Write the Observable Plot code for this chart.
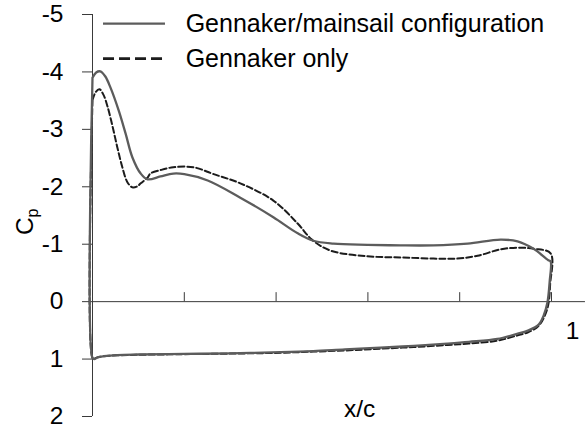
<!DOCTYPE html>
<html>
<head>
<meta charset="utf-8">
<script src="https://cdn.jsdelivr.net/npm/d3@7"></script>
<script src="https://cdn.jsdelivr.net/npm/@observablehq/plot@0.6"></script>
<style>
  html, body { margin: 0; padding: 0; background: #fff; }
  #chart { width: 587px; height: 430px; }
</style>
</head>
<body>
<div id="chart"></div>
<script>
// ---- Data (x/c, Cp) ----
const seriesNames = ["Gennaker/mainsail configuration", "Gennaker only"];

// Gennaker/mainsail: suction side LE -> TE, then pressure side TE -> LE (closed loop)
const gmX = [0, 0.008, 0.017, 0.028, 0.039, 0.057, 0.072, 0.087, 0.105, 0.12, 0.148, 0.176, 0.20, 0.251, 0.322, 0.394, 0.447, 0.481, 0.525, 0.599, 0.671, 0.743, 0.817, 0.889, 0.926, 0.961, 0.993, 0.998,
             0.996, 0.991, 0.983, 0.972, 0.950, 0.925, 0.882, 0.82, 0.773, 0.70, 0.627, 0.55, 0.481, 0.41, 0.30, 0.20, 0.10, 0.054, 0.025, 0.011, 0.004, 0.0, 0.0];
const gmCp = [-3.90, -3.99, -4.01, -3.92, -3.73, -3.33, -2.93, -2.51, -2.23, -2.13, -2.18, -2.23, -2.22, -2.11, -1.81, -1.47, -1.19, -1.06, -1.01, -0.99, -0.98, -0.98, -1.01, -1.08, -1.05, -0.92, -0.72, -0.70,
             -0.35, 0.02, 0.24, 0.40, 0.50, 0.56, 0.65, 0.70, 0.73, 0.77, 0.80, 0.83, 0.86, 0.88, 0.90, 0.91, 0.92, 0.93, 0.95, 0.97, 1.00, 0.98, -3.90];

// Gennaker only
const goX = [0, 0.007, 0.015, 0.024, 0.033, 0.044, 0.054, 0.065, 0.076, 0.087, 0.098, 0.105, 0.12, 0.126, 0.148, 0.176, 0.22, 0.264, 0.322, 0.394, 0.447, 0.478, 0.518, 0.599, 0.671, 0.743, 0.795, 0.839, 0.889, 0.926, 0.961, 0.998,
             0.997, 0.993, 0.985, 0.972, 0.950, 0.925, 0.882, 0.82, 0.773, 0.70, 0.627, 0.55, 0.481, 0.41, 0.30, 0.20, 0.10, 0.054, 0.025, 0.011, 0.004, 0.0, 0.0];
const goCp = [-3.51, -3.65, -3.70, -3.60, -3.39, -3.04, -2.69, -2.34, -2.08, -1.99, -2.01, -2.06, -2.16, -2.23, -2.29, -2.34, -2.34, -2.22, -2.06, -1.76, -1.36, -1.08, -0.89, -0.79, -0.77, -0.75, -0.75, -0.80, -0.91, -0.94, -0.92, -0.84,
             -0.30, 0.05, 0.25, 0.42, 0.53, 0.59, 0.68, 0.73, 0.755, 0.79, 0.82, 0.85, 0.87, 0.89, 0.905, 0.915, 0.925, 0.935, 0.95, 0.97, 0.99, 0.98, -3.51];

const yTicks = [-5, -4, -3, -2, -1, 0, 1, 2];
const xTicks = [0.2, 0.4, 0.6, 0.8, 1.0];
const xTickLabels = ["1"];

// ---- Build tables ----
const gm = gmX.map((x, i) => ({x, cp: gmCp[i]}));
const go = goX.map((x, i) => ({x, cp: goCp[i]}));

const FONT = "'Liberation Sans', Arial, sans-serif";
const solidColor = "#5c5c5c";
const dashColor = "#1c1c1c";
const axisColor = "#3a3a3a";
const pxPerUnit = 402 / 7;
const tickLen = 9 / pxPerUnit;

// legend rows (frame units)
const legendSolid = [{name: seriesNames[0], y: -4.84}];
const legendDash = [{name: seriesNames[1], y: -4.23}];

const plot = Plot.plot({
  width: 587,
  height: 430,
  marginLeft: 92,
  marginRight: 36,
  marginTop: 14,
  marginBottom: 14,
  style: {fontFamily: FONT, fontSize: "24px", background: "white", color: "#000", overflow: "visible"},
  x: {domain: [0, 1], axis: null},
  y: {domain: [-5, 2], reverse: true, axis: null},
  marks: [
    Plot.axisY({ticks: yTicks, tickFormat: d => String(d), anchor: "left", tickSize: 10, tickPadding: 19, fontSize: 24.5, stroke: axisColor, fill: "#000"}),
    Plot.ruleX([0], {stroke: axisColor, strokeWidth: 1}),
    Plot.ruleY([0], {x1: 0, x2: 1.074, stroke: axisColor, strokeWidth: 1}),
    Plot.ruleX(xTicks, {x: d => d, y1: 0, y2: -tickLen, stroke: axisColor, strokeWidth: 1}),
    Plot.text(xTickLabels, {x: 1.046, y: 0.52, text: d => d, fontSize: 24.5, fill: "#000"}),
    Plot.text(["x/c"], {x: 0.582, y: 1.87, text: d => d, fontSize: 24.5, fill: "#000"}),
    Plot.text(["C"], {x: -0.146, y: -1.39, text: d => d, rotate: -90, fontSize: 24.5, fill: "#000"}),
    // data lines
    Plot.line(go, {x: "x", y: "cp", stroke: dashColor, strokeWidth: 2, strokeDasharray: "6,3", curve: "catmull-rom"}),
    Plot.line(gm, {x: "x", y: "cp", stroke: solidColor, strokeWidth: 2.3, curve: "catmull-rom"}),
    // legend
    Plot.ruleY(legendSolid, {y: "y", x1: 0.024, x2: 0.159, stroke: solidColor, strokeWidth: 2.2}),
    Plot.ruleY(legendDash, {y: "y", x1: 0.024, x2: 0.159, stroke: dashColor, strokeWidth: 2.8, strokeDasharray: "11,5"}),
    Plot.text(legendSolid.concat(legendDash), {y: "y", x: 0.203, text: "name", textAnchor: "start", fontSize: 25, fill: "#000"})
  ]
});

// subscript p on the C label
d3.select(plot).selectAll("text").filter(function() { return this.textContent === "C"; })
  .append("tspan").attr("font-size", 16).attr("dy", "0.3em").text("p");

document.getElementById("chart").appendChild(plot);
</script>
</body>
</html>
